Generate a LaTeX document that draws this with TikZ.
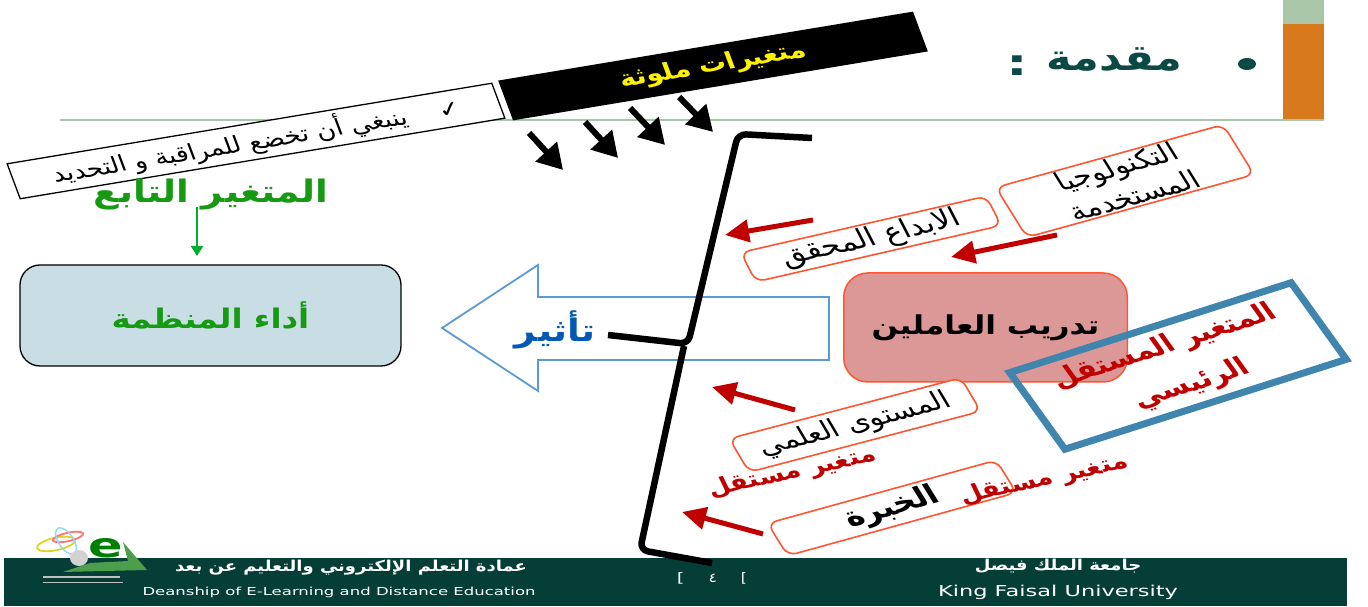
\documentclass[tikz,border=0pt]{standalone}
\usepackage{fontspec}
\usetikzlibrary{arrows.meta}
\TeXXeTstate=1
\newfontfamily\arabicfont[Script=Arabic,FakeStretch=0.8]{DejaVu Sans}
\setmainfont{DejaVu Sans}
\newcommand{\ar}[1]{\arabicfont\beginR #1\endR}
\definecolor{headteal}{HTML}{0B4A44}
\definecolor{footgreen}{HTML}{043E36}
\definecolor{linegreen}{HTML}{A9C6A8}
\definecolor{barorange}{HTML}{D9791E}
\definecolor{darkred}{HTML}{C00000}
\definecolor{boxorange}{HTML}{FF5530}
\definecolor{arrowblue}{HTML}{5B9BD5}
\definecolor{mainblue}{HTML}{3F85AE}
\definecolor{titlegreen}{HTML}{159A12}
\definecolor{paleblue}{HTML}{C9DDE5}
\definecolor{palered}{HTML}{DC9797}
\tikzset{
	every node/.style={transform shape},
	varbox/.style={draw=boxorange,line width=1.6pt,fill=white,rounded corners=9pt,align=center,inner sep=0pt,font=\fontsize{25}{31}\selectfont},
	redarrow/.style={draw=darkred,line width=5pt,-{Triangle[width=22pt,length=24pt]}},
	blackarrow/.style={draw=black,line width=6pt,-{Triangle[width=28pt,length=25pt]}},
	redlabel/.style={text=darkred,font=\bfseries\fontsize{22}{26}\selectfont},
	footlabel/.style={text=white,inner sep=0pt}
}
\begin{document}
\begin{tikzpicture}[xscale=1.5,x=0.6667pt,y=-1pt]
	\useasboundingbox (0,0) rectangle (1368,607);

	% Heading
	\fill[linegreen] (1283,0) rectangle (1324,24);
	\fill[barorange] (1283,24) rectangle (1324,120);
	\draw[linegreen,line width=1.8pt] (60,120) -- (1324,120);
	\node[circle,fill=headteal,inner sep=0pt,minimum size=12pt] (bullet) at (1247,64) {};
	\node[text=headteal,font=\bfseries\fontsize{36}{42}\selectfont] (heading) at (1114,60) {\ar{مقدمة}};
	\node[text=headteal,font=\bfseries\fontsize{36}{42}\selectfont] (colon) at (1017,66) {:};

	% Top strips
	\node[draw=black,line width=1.3pt,fill=white,rotate=14,minimum width=333pt,minimum height=36pt,inner sep=0pt,font=\fontsize{22}{26}\selectfont] (control) at (256,141) {\ar{✓\quad ينبغي أن تخضع للمراقبة و التحديد}};
	\node[fill=black,rotate=14,minimum width=285pt,minimum height=41pt,inner sep=0pt,text=yellow,font=\bfseries\fontsize{23}{27}\selectfont] (confound) at (713,66) {\ar{متغيرات ملوثة}};
	\coordinate (c1a) at (529,133);
	\coordinate (c1b) at (563,170);
	\coordinate (c2a) at (585,122);
	\coordinate (c2b) at (618,158);
	\coordinate (c3a) at (630,108);
	\coordinate (c3b) at (665,145);
	\coordinate (c4a) at (679,97);
	\coordinate (c4b) at (713,132);
	\foreach \i in {1,2,3,4}
		\draw[blackarrow] (c\i a) -- (c\i b);

	% Dependent variable
	\node[text=titlegreen,font=\bfseries\fontsize{31}{36}\selectfont] (deplabel) at (211,195) {\ar{المتغير التابع}};
	\node[draw=black,line width=1.3pt,fill=paleblue,rounded corners=20pt,minimum width=254pt,minimum height=101pt,text=titlegreen,font=\bfseries\fontsize{27}{32}\selectfont] (perform) at (210.5,315.5) {\ar{أداء المنظمة}};
	\coordinate (depstart) at (197,207);
	\coordinate (depend) at (197,256);
	\draw[draw=green!60!black!80!cyan,line width=2.4pt,-{Triangle[width=12pt,length=10pt]}] (depstart) -- (depend);

	% Effect arrow
	\draw[arrowblue,line width=1.8pt,fill=white] (442,328) -- (538,265) -- (538,297) -- (829,297) -- (829,360) -- (538,360) -- (538,391) -- cycle;
	\node[text=blue!50!cyan!70!black,font=\bfseries\fontsize{31}{36}\selectfont] (effect) at (555,330) {\ar{تأثير}};

	% Main independent variable
	\node[draw=boxorange,line width=1.5pt,fill=palered,rounded corners=24pt,minimum width=189pt,minimum height=109pt,font=\bfseries\fontsize{26}{31}\selectfont] (training) at (985.5,327.5) {\ar{تدريب العاملين}};

	% Other independent variables
	\node[varbox,rotate=22.5,minimum width=164pt,minimum height=54pt] (tech) at (1125,181) {\ar{التكنولوجيا}\\\ar{المستخدمة}};
	\node[varbox,rotate=19,minimum width=173pt,minimum height=31pt,font=\fontsize{26}{31}\selectfont] (creative) at (871,239) {\ar{الابداع المحقق}};
	\node[varbox,rotate=21.5,minimum width=166pt,minimum height=36pt] (science) at (855,425) {\ar{المستوى العلمي}};
	\node[varbox,rotate=22.5,minimum width=165pt,minimum height=35pt,font=\bfseries\fontsize{27}{32}\selectfont] (exper) at (892,508) {\ar{الخبرة}};
	\draw[redarrow] (813,220) -- (725,235);
	\draw[redarrow] (1057,235) -- (951,257);
	\draw[redarrow] (795,410) -- (712,387);
	\draw[redarrow] (763,534) -- (682,512);
	\node[redlabel,rotate=18] (indep1) at (792,473) {\ar{متغير مستقل}};
	\node[redlabel,rotate=18] (indep2) at (1044,480) {\ar{متغير مستقل}};
	\node[draw=mainblue,line width=7pt,rotate=25.6,minimum width=208pt,minimum height=85pt,inner sep=0pt,align=center,text=darkred,font=\bfseries\fontsize{25}{42}\selectfont] (mainvar) at (1178,366) {\ar{المتغير المستقل}\\\ar{الرئيسي}};

	% Footer
	\fill[footgreen] (4,558) rectangle (1347,606);
	\node[footlabel,font=\bfseries\fontsize{15}{18}\selectfont] (uniar) at (1058,566) {\ar{جامعة الملك فيصل}};
	\node[footlabel,font=\fontsize{15}{18}\selectfont] (unien) at (1058,592) {King Faisal University};
	\node[footlabel,font=\bfseries\fontsize{15}{18}\selectfont] (deanar) at (351,568) {\ar{عمادة التعلم الإلكتروني والتعليم عن بعد}};
	\node[footlabel,font=\fontsize{11}{14}\selectfont] (deanen) at (339,592) {Deanship of E-Learning and Distance Education};
	\node[footlabel,font=\fontsize{13}{16}\selectfont] (pagenum) at (712,578) {[\hspace{16pt}\ar{٤}\hspace{16pt}]};

	% Bracket
	\draw[line width=6.5pt,line join=round,rounded corners=8pt] (812,138) -- (738,134) -- (688,344) -- (608,335);
	\draw[line width=6.5pt,line join=round,rounded corners=8pt] (684,346) -- (640,550) -- (712,563);

	% Logo
	\begin{scope}
		\draw[yellow!85!black,line width=1.8pt,rotate around={20:(56,544)}] (56,544) ellipse (20 and 6);
		\draw[red!55,line width=1.8pt,rotate around={20:(68,537)}] (68,537) ellipse (16 and 4);
		\draw[cyan!45,line width=1.4pt,rotate around={20:(66,541)}] (66,541) ellipse (8 and 14);
		\fill[green!45!black!70!white] (63,572) -- (147,570) -- (123,542) -- (128,561) -- (90,563) -- cycle;
		\fill[gray!35] (79,558) circle (9 and 8);
		\node[text=green!50!black,inner sep=0pt,font=\bfseries\fontsize{34}{34}\selectfont] (logoe) at (106,548) {e};
		\draw[gray!50,line width=1.2pt] (43,577) -- (120,577);
		\draw[gray!50,line width=1pt] (43,583) -- (123,583);
	\end{scope}
\end{tikzpicture}
\end{document}
